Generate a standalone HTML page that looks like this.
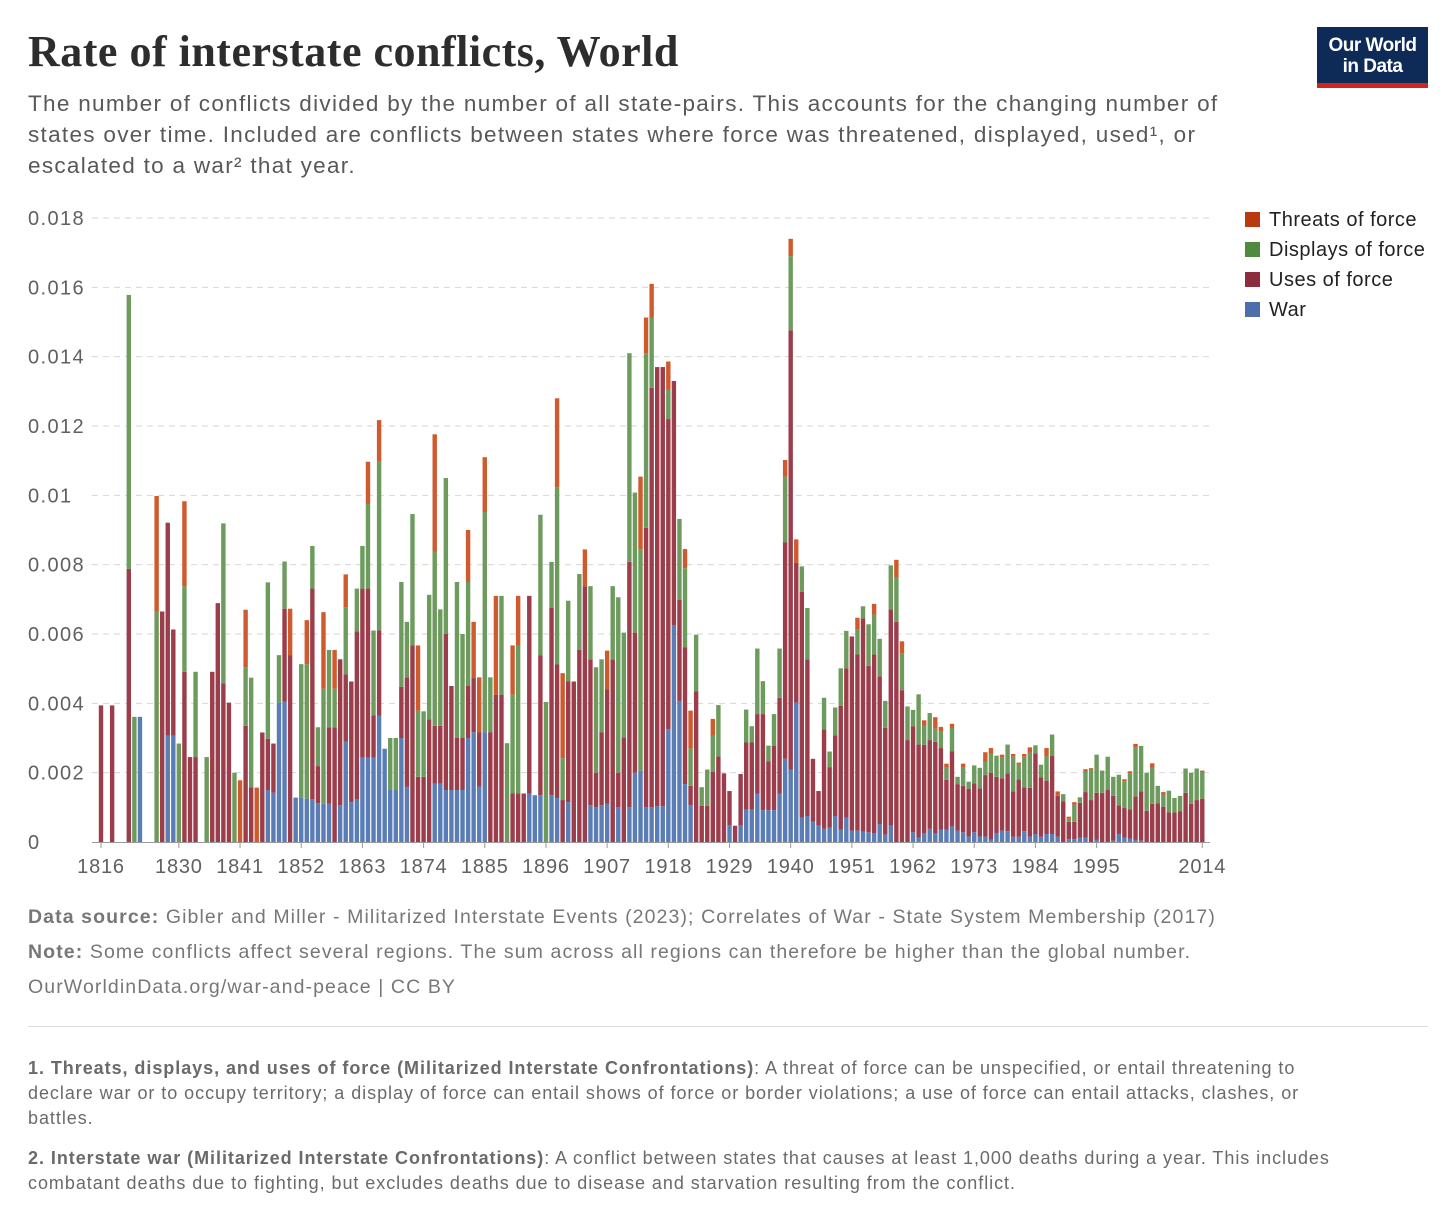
<!DOCTYPE html>
<html><head><meta charset="utf-8">
<style>
body{margin:0;background:#fff;width:1456px;height:1223px;overflow:hidden;font-family:"Liberation Sans",sans-serif;}
.abs{position:absolute;white-space:nowrap;}
#title{left:28px;top:26px;font-family:"Liberation Serif",serif;font-weight:bold;font-size:44px;color:#2d2d2d;letter-spacing:0.5px;}
.sub{left:28px;font-size:22.5px;color:#585858;letter-spacing:1.3px;}
#logo{left:1317px;top:27px;width:111px;height:61px;background:#0e2a57;color:#fff;text-align:center;font-weight:bold;font-size:19px;line-height:21px;box-sizing:border-box;padding-top:8px;border-bottom:5px solid #ce261e;letter-spacing:-0.5px;}
.foot{left:28px;font-size:19.5px;color:#777;letter-spacing:1.1px;}
.fn{left:28px;font-size:18px;color:#6a6a6a;letter-spacing:0.95px;}
.leg{left:1245px;font-size:20px;color:#222;letter-spacing:0.5px;}
.sw{display:inline-block;width:15px;height:15px;vertical-align:-1px;margin-right:9px;}
</style></head><body>
<div id="title" class="abs">Rate of interstate conflicts, World</div>
<div class="abs sub" style="top:91px">The number of conflicts divided by the number of all state-pairs. This accounts for the changing number of</div>
<div class="abs sub" style="top:122px">states over time. Included are conflicts between states where force was threatened, displayed, used¹, or</div>
<div class="abs sub" style="top:153px">escalated to a war² that year.</div>
<div id="logo" class="abs">Our World<br>in Data</div>

<div class="abs leg" style="top:209px"><span class="sw" style="background:#b83a0e"></span>Threats of force</div>
<div class="abs leg" style="top:239px"><span class="sw" style="background:#4f8a40"></span>Displays of force</div>
<div class="abs leg" style="top:269px"><span class="sw" style="background:#8c2c3c"></span>Uses of force</div>
<div class="abs leg" style="top:299px"><span class="sw" style="background:#4c6ead"></span>War</div>

<svg id="chart" class="abs" style="left:0;top:0" width="1456" height="900"></svg>

<div class="abs foot" style="top:906px"><b>Data source:</b> Gibler and Miller - Militarized Interstate Events (2023); Correlates of War - State System Membership (2017)</div>
<div class="abs foot" style="top:941px"><b>Note:</b> Some conflicts affect several regions. The sum across all regions can therefore be higher than the global number.</div>
<div class="abs foot" style="top:976px">OurWorldinData.org/war-and-peace | CC BY</div>
<div class="abs" style="left:28px;top:1026px;width:1400px;height:1px;background:#ddd"></div>
<div class="abs fn" style="top:1058px"><b>1. Threats, displays, and uses of force (Militarized Interstate Confrontations)</b>: A threat of force can be unspecified, or entail threatening to</div>
<div class="abs fn" style="top:1083px">declare war or to occupy territory; a display of force can entail shows of force or border violations; a use of force can entail attacks, clashes, or</div>
<div class="abs fn" style="top:1108px">battles.</div>
<div class="abs fn" style="top:1148px"><b>2. Interstate war (Militarized Interstate Confrontations)</b>: A conflict between states that causes at least 1,000 deaths during a year. This includes</div>
<div class="abs fn" style="top:1173px">combatant deaths due to fighting, but excludes deaths due to disease and starvation resulting from the conflict.</div>

<script>
const firstYear = 1816;
const yTicks = [0, 0.002, 0.004, 0.006, 0.008, 0.01, 0.012, 0.014, 0.016, 0.018];
const yTickLabels = ["0","0.002","0.004","0.006","0.008","0.01","0.012","0.014","0.016","0.018"];
const xTickYears = [1816,1830,1841,1852,1863,1874,1885,1896,1907,1918,1929,1940,1951,1962,1973,1984,1995,2014];
// values in units of 0.001
const war = [0,0,0,0,0,0,0,3.61,0,0,
0,0,3.07,3.07,0,0,0,0,0,0,
0,0,0,0,0,0,0,0,0,0,
1.5,1.42,4.02,4.05,0,1.28,1.28,1.25,1.23,1.12,
1.1,1.1,0,1.06,2.9,1.15,1.23,2.43,2.43,2.43,
3.65,2.69,1.5,1.5,3.0,1.59,0,0,0,0,
1.68,1.68,1.5,1.5,1.5,1.5,3.0,3.17,1.6,3.17,
0,0,0,0,0,0,0,1.4,1.35,1.35,
0,1.35,1.27,0,1.15,0,0,0,1.06,1.0,
1.06,1.1,0,1.0,0,1.0,2.0,2.06,1.0,1.0,
1.03,1.03,3.25,6.26,4.07,1.67,1.06,0,0,0,
0,0,0,0.49,0,0.47,0.94,0.94,1.39,0.92,
0.92,0.92,1.39,2.4,2.09,4.02,0.7,0.75,0.59,0.47,
0.38,0.41,0.75,0.35,0.7,0.33,0.33,0.3,0.28,0.26,
0.52,0.21,0.47,0,0,0,0.28,0.12,0.26,0.38,
0.24,0.35,0.35,0.45,0.33,0.28,0.16,0.28,0.16,0.16,
0.07,0.26,0.33,0.31,0.15,0.15,0.31,0.15,0.23,0.15,
0.23,0.23,0.15,0,0.08,0.08,0.12,0.12,0,0.06,
0,0,0.04,0.23,0.12,0.1,0.06,0.04,0,0,
0,0,0,0,0,0,0,0,0];
const uses = [3.94,0,3.94,0,0,7.88,0,0,0,0,
0,6.65,6.14,3.06,0,4.91,2.45,2.45,0,0,
4.91,6.89,4.58,4.02,0,0,3.35,1.57,0,3.16,
1.48,1.42,0,2.68,5.38,0,0,0,6.08,1.07,
0,2.21,3.31,4.21,1.93,3.48,4.85,4.88,4.88,1.22,
2.45,0,0,0,1.48,3.16,5.67,1.88,1.88,3.54,
1.67,1.67,4.5,3.0,1.5,1.5,1.5,1.56,1.57,0,
3.17,4.25,4.25,0,1.4,1.4,1.4,5.7,0,4.03,
0,5.4,3.85,1.21,3.48,4.63,5.54,7.38,4.21,1.0,
2.11,3.3,5.27,1.0,3.02,7.08,4.04,0,8.06,12.1,
12.67,12.67,8.95,7.04,2.92,3.95,0.56,4.35,1.04,1.04,
2.02,2.47,1.98,0.98,0.47,1.49,1.93,1.93,2.3,2.77,
1.41,1.86,2.77,6.24,12.67,4.03,6.52,4.52,1.81,1.0,
2.87,1.75,2.33,3.58,4.31,5.6,5.08,6.15,4.8,5.15,
4.26,3.08,6.24,6.35,4.38,2.94,3.06,2.7,2.54,2.56,
2.65,2.36,1.44,2.16,1.34,1.34,1.37,1.41,1.39,1.77,
1.93,1.62,1.51,1.67,1.31,1.66,1.27,1.41,2.33,1.72,
1.54,2.25,1.18,1.17,0.5,0.5,1.01,1.32,1.21,1.36,
1.42,1.5,1.29,0.83,0.86,0.84,1.25,1.42,0.9,1.1,
1.12,1.02,0.85,0.85,0.88,1.42,1.1,1.21,1.25];
const displays = [0,0,0,0,0,7.9,3.61,0,0,0,
6.65,0,0,0,2.84,2.47,0,2.46,0,2.45,
0,0,4.61,0,2.0,0,1.69,3.17,0,0,
4.51,0,1.37,1.36,0,0,3.85,3.88,1.23,1.12,
3.32,2.23,1.11,0,1.94,0,1.23,1.23,2.44,2.45,
4.87,0,1.5,1.5,3.02,1.6,3.79,1.91,1.89,3.59,
5.03,3.36,4.5,0,4.5,3.0,3.0,0,0,6.35,
1.58,0,2.85,2.85,2.85,4.27,0,0,0,4.06,
4.04,1.33,5.11,1.21,2.33,0,2.19,0,2.11,3.04,
2.1,0,2.11,5.06,3.02,6.02,4.04,6.39,5.04,2.03,
0,0,0.84,0,2.33,2.28,1.08,1.63,0.54,1.05,
1.04,1.48,0,0,0,0,0.95,0.47,1.89,0.95,
0.45,0.91,1.42,1.9,2.14,0,0.73,1.48,0,0,
0.91,0.45,0.8,1.08,1.08,0,0.71,0.35,1.2,1.15,
1.08,0.78,1.27,1.27,1.06,0.97,0.47,1.44,0.56,0.78,
0.38,0.49,0.35,0.68,0.21,0.52,0.21,0.52,0.59,0.38,
0.54,0.61,0.61,0.83,1.0,0.42,0.88,1.02,0.23,0.36,
0.71,0.62,0,0.21,0.09,0.5,0.16,0.58,0.87,1.1,
0.64,0.96,0.55,0.88,0.77,1.04,1.42,1.31,1.1,1.05,
0.5,0.35,0.63,0.42,0.45,0.7,0.9,0.91,0.77];
const threats = [0,0,0,0,0,0,0,0,0,0,
3.33,0,0,0,0,2.45,0,0,0,0,
0,0,0,0,0,1.78,1.66,0,1.57,0,
0,0,0,0,1.35,0,0,1.27,0,0,
2.21,0,1.12,0,0.95,0,0,0,1.22,0,
1.2,0,0,0,0,0,0,1.88,0,0,
3.38,0,0,0,0,0,1.5,1.62,1.58,1.58,
0,2.85,0,0,1.42,1.43,0,0,0,0,
0,0,2.57,2.45,0,0,0,1.06,0,0,
0,1.12,0,0,0,0,0,2.09,1.03,0.97,
0,0,0.82,0,0,0.55,1.09,0,0,0,
0.49,0,0,0,0,0,0,0,0,0,
0,0,0,0.48,0.5,0.68,0,0,0,0,
0,0,0,0,0,0,0.35,0,0,0.31,
0,0,0,0.52,0.35,0,0,0,0.15,0,
0.33,0.12,0.12,0.12,0,0.12,0,0,0,0.28,
0.17,0,0.07,0,0.08,0.06,0.08,0.15,0,0,
0.23,0,0.13,0,0.06,0.07,0,0.08,0.05,0,
0,0,0,0,0.06,0.06,0.1,0,0,0.12,
0,0.07,0,0,0,0,0,0,0.04];

const NS = "http://www.w3.org/2000/svg";
const svg = document.getElementById('chart');
const X0 = 101, PXY = 5.562, Y0 = 842, YTOP = 218, YMAX = 0.018;
function xs(year){ return X0 + (year - firstYear) * PXY; }
function ys(v){ return Y0 - v / YMAX * (Y0 - YTOP); }
function mk(tag, attrs){ const e = document.createElementNS(NS, tag); for (const k in attrs) e.setAttribute(k, attrs[k]); svg.appendChild(e); return e; }

yTicks.forEach((t, i) => {
  if (i > 0) {
    const g = mk('line', {x1: 92, x2: 1210, y1: ys(t), y2: ys(t), stroke: '#d6d6d6', 'stroke-dasharray': '6,5', 'stroke-width': 1});
    
    
  }
  const tx = mk('text', {x: 28, y: ys(t) + 7, 'font-size': 20, fill: '#606060', 'letter-spacing': '1.4', 'font-family': 'Liberation Sans, sans-serif'});
  tx.textContent = yTickLabels[i];
  
  
});

const series = [
  {vals: war, color: '#5b7db5', name: 'bar-war'},
  {vals: uses, color: '#9c3d4c', name: 'bar-uses'},
  {vals: displays, color: '#6d9b5e', name: 'bar-displays'},
  {vals: threats, color: '#cf5a2d', name: 'bar-threats'}
];
for (let i = 0; i < war.length; i++) {
  let base = 0;
  const x = xs(firstYear + i) - 2.2;
  series.forEach(s => {
    const v = s.vals[i] * 0.001;
    if (v > 0) {
      const r = mk('rect', {x: x, width: 4.4, y: ys(base + v), height: ys(base) - ys(base + v), fill: s.color});
      
      
    }
    base += v;
  });
}

const ax = mk('line', {x1: 92, x2: 1210, y1: Y0 + 0.5, y2: Y0 + 0.5, stroke: '#999', 'stroke-width': 1});


xTickYears.forEach(yr => {
  const tk = mk('line', {x1: xs(yr), x2: xs(yr), y1: Y0, y2: Y0 + 6, stroke: '#999', 'stroke-width': 1});
  
  
  const tx = mk('text', {x: xs(yr), y: Y0 + 31, 'font-size': 20, fill: '#606060', 'letter-spacing': '0.8', 'text-anchor': 'middle', 'font-family': 'Liberation Sans, sans-serif'});
  tx.textContent = String(yr);
  
  
});
</script>
</body></html>
